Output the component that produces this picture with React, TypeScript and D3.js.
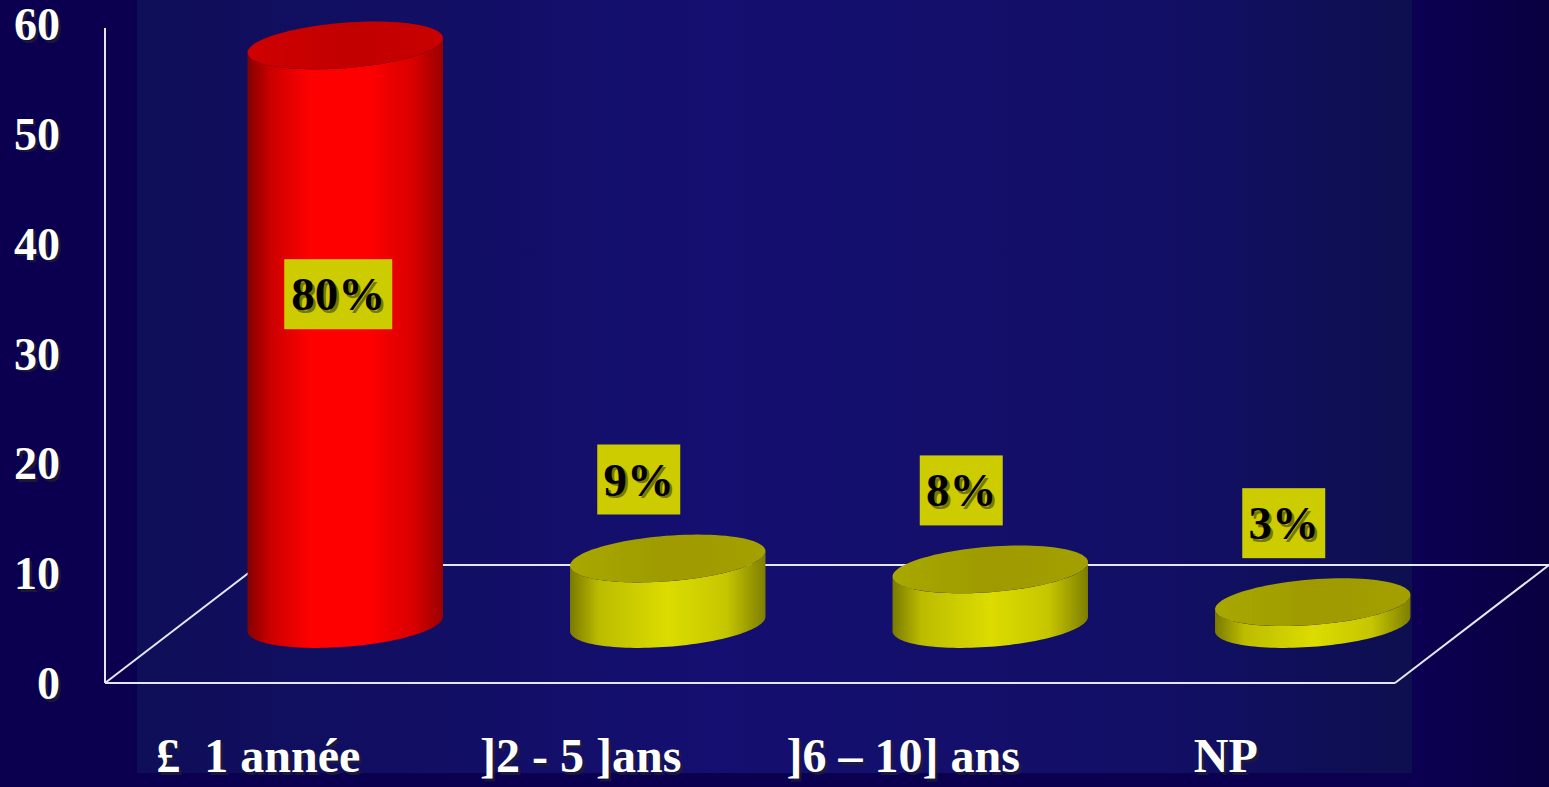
import React from "react";
import * as d3 from "d3";

// Survey counts per duration class (axis in counts, labels in percent)
const categories = ["£  1 année", "]2 - 5 ]ans", "]6 – 10] ans", "NP"];
const counts = [53, 6, 5, 2];
const yTicks = [0, 10, 20, 30, 40, 50, 60];

const W = 1549;
const H = 787;

const total = d3.sum(counts);
const percentLabels = counts.map((c) => `${Math.round((c / total) * 100)}%`);

// Front plane of the 3D box
const x = d3.scaleBand<string>().domain(categories).range([105, 1395]).paddingInner(0).paddingOuter(0);
const y = d3.scaleLinear().domain([0, 60]).range([683, 28]);
// depth offset of the back plane
const DX = 154;
const DY = -118;

const RX = 98;
const RY = 22.7;
const ROT = (-4.5 * Math.PI) / 180;

function ellPoint(cx: number, cy: number, t: number): [number, number] {
  const c = Math.cos(ROT);
  const s = Math.sin(ROT);
  return [
    cx + RX * Math.cos(t) * c - RY * Math.sin(t) * s,
    cy + RX * Math.cos(t) * s + RY * Math.sin(t) * c,
  ];
}

const t0 = Math.atan((-RY * Math.tan(ROT)) / RX);

function arc(cx: number, cy: number, from: number, to: number, n = 64): [number, number][] {
  const pts: [number, number][] = [];
  for (let i = 0; i <= n; i++) pts.push(ellPoint(cx, cy, from + ((to - from) * i) / n));
  return pts;
}

function bodyPath(cx: number, topY: number, baseY: number): string {
  const bottomFront = arc(cx, baseY, t0, t0 + Math.PI);
  const topFrontRev = arc(cx, topY, t0 + Math.PI, t0);
  const pts = [...bottomFront, ...topFrontRev];
  return d3.line()(pts) + "Z";
}

function ellipsePath(cx: number, cy: number): string {
  return d3.line()(arc(cx, cy, 0, Math.PI * 2, 96)) + "Z";
}

const serif = "'Liberation Serif', 'DejaVu Serif', serif";

function ShadowText(props: {
  x: number;
  y: number;
  text: string;
  anchor: string;
  fill: string;
  shadow: string;
  size: number;
}) {
  const { x: tx, y: ty, text, anchor, fill, shadow, size } = props;
  return (
    <g fontFamily={serif} fontWeight="bold" fontSize={size} textAnchor={anchor}>
      <text x={tx + 2.5} y={ty + 2.5} fill={shadow} opacity={0.75} xmlSpace="preserve">
        {text}
      </text>
      <text x={tx} y={ty} fill={fill} xmlSpace="preserve">
        {text}
      </text>
    </g>
  );
}

export default function App() {
  const baseY = y(0) + DY * 0.5;
  const floorBack = y(0) + DY;
  const barX = (cat: string) => (x(cat) as number) + x.bandwidth() / 2 + DX * 0.5 + 2;

  return (
    <div style={{ position: "fixed", left: 0, top: 0 }}>
      <svg width={W} height={H} style={{ display: "block" }}>
        <defs>
          <linearGradient id="panel" x1="0" x2="1" y1="0" y2="0">
            <stop offset="0" stopColor="#0f0e58" />
            <stop offset="0.45" stopColor="#140f70" />
            <stop offset="0.8" stopColor="#120f66" />
            <stop offset="1" stopColor="#0d0f4f" />
          </linearGradient>
          <linearGradient id="rightStrip" x1="0" x2="1" y1="0" y2="0">
            <stop offset="0" stopColor="#0b0052" />
            <stop offset="1" stopColor="#080040" />
          </linearGradient>
          <linearGradient id="redBody" x1="0" x2="1" y1="0" y2="0">
            <stop offset="0" stopColor="#850000" />
            <stop offset="0.12" stopColor="#cc0000" />
            <stop offset="0.32" stopColor="#ff0000" />
            <stop offset="0.62" stopColor="#ff0000" />
            <stop offset="0.85" stopColor="#d80000" />
            <stop offset="1" stopColor="#9a0000" />
          </linearGradient>
          <linearGradient id="redTop" x1="0" x2="1" y1="0" y2="0">
            <stop offset="0" stopColor="#d00000" />
            <stop offset="0.5" stopColor="#c20000" />
            <stop offset="1" stopColor="#c80000" />
          </linearGradient>
          <linearGradient id="yelBody" x1="0" x2="1" y1="0" y2="0">
            <stop offset="0" stopColor="#7a7a00" />
            <stop offset="0.15" stopColor="#bcbc00" />
            <stop offset="0.5" stopColor="#dcdc00" />
            <stop offset="0.8" stopColor="#c6c600" />
            <stop offset="1" stopColor="#7e7e00" />
          </linearGradient>
          <linearGradient id="yelTop" x1="0" x2="1" y1="0" y2="0">
            <stop offset="0" stopColor="#a8a800" />
            <stop offset="0.5" stopColor="#9e9a00" />
            <stop offset="1" stopColor="#a4a000" />
          </linearGradient>
        </defs>

        {/* backdrop */}
        <rect x={0} y={0} width={W} height={H} fill="#0b0050" />
        <rect x={137} y={0} width={1412 - 137} height={773} fill="url(#panel)" />
        <rect x={1412} y={0} width={W - 1412} height={H} fill="url(#rightStrip)" />

        {/* floor: back edge and side edges, plus the value axis */}
        <g stroke="#e6e6f0" strokeWidth={2} fill="none">
          <line x1={x.range()[0] + DX} y1={floorBack} x2={x.range()[1] + DX} y2={floorBack} />
          <line x1={x.range()[0]} y1={y(0)} x2={x.range()[0] + DX} y2={floorBack} />
          <line x1={x.range()[1]} y1={y(0)} x2={x.range()[1] + DX} y2={floorBack} />
          <line x1={x.range()[0]} y1={y(0)} x2={x.range()[1]} y2={y(0)} />
          <line x1={x.range()[0]} y1={y(0)} x2={x.range()[0]} y2={y(60)} />
        </g>

        {/* cylinders */}
        {categories.map((cat, i) => {
          const cx = barX(cat);
          const topY = baseY - (y(0) - y(counts[i]));
          const isRed = i === 0;
          return (
            <g key={cat}>
              <path d={bodyPath(cx, topY, baseY)} fill={isRed ? "url(#redBody)" : "url(#yelBody)"} />
              <path d={ellipsePath(cx, topY)} fill={isRed ? "url(#redTop)" : "url(#yelTop)"} />
            </g>
          );
        })}

        {/* percentage labels */}
        {categories.map((cat, i) => {
          const cx = barX(cat);
          const topY = baseY - (y(0) - y(counts[i]));
          const label = percentLabels[i];
          const bw = 33 + 25 * label.length;
          const bh = 70;
          const inside = baseY - topY > 150;
          const bcx = inside ? cx - 7 : cx - 29;
          const bcy = inside ? topY + (baseY - topY) * 0.43 : topY - 24 - 20 - bh / 2;
          return (
            <g key={"lab" + cat}>
              <rect x={bcx - bw / 2} y={bcy - bh / 2} width={bw} height={bh} fill="#cccc00" />
              <ShadowText
                x={bcx}
                y={bcy + 16}
                text={label}
                anchor="middle"
                fill="#000000"
                shadow="#5a5a00"
                size={47}
              />
            </g>
          );
        })}

        {/* y axis tick labels */}
        {yTicks.map((t) => (
          <ShadowText
            key={t}
            x={60}
            y={y(t) + 16 - (t / 60) * 4}
            text={String(t)}
            anchor="end"
            fill="#ffffff"
            shadow="#202030"
            size={46}
          />
        ))}

        {/* category labels */}
        {categories.map((cat) => (
          <ShadowText
            key={"cat" + cat}
            x={(x(cat) as number) + x.bandwidth() / 2 - 8}
            y={772}
            text={cat}
            anchor="middle"
            fill="#ffffff"
            shadow="#202030"
            size={48}
          />
        ))}
      </svg>
    </div>
  );
}
